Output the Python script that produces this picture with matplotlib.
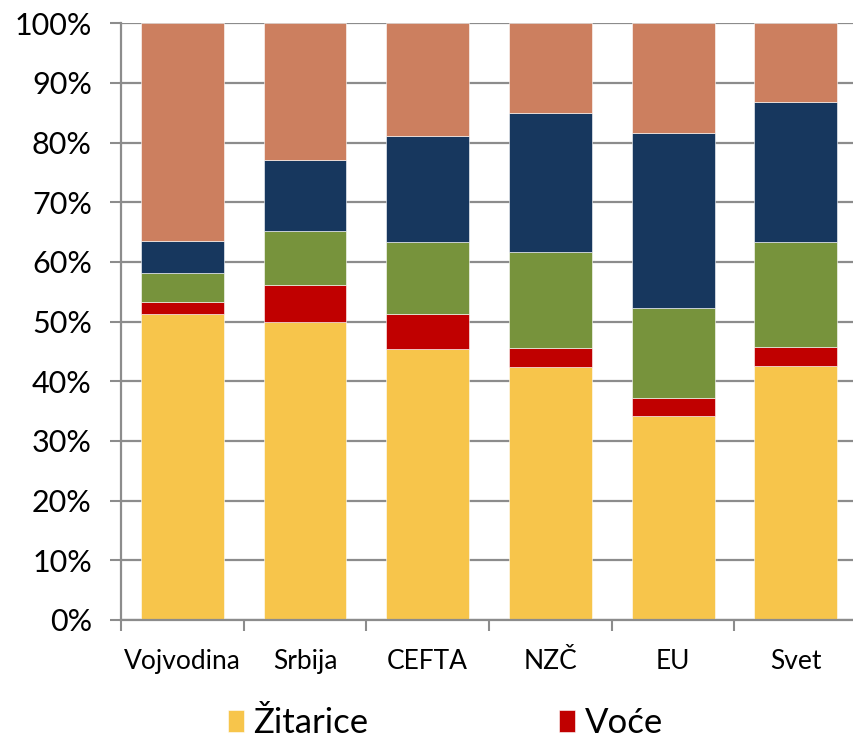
import numpy as np
import matplotlib.pyplot as plt

regions = ['Vojvodina', 'Srbija', 'CEFTA', 'NZČ', 'EU', 'Svet']
zitarice = [51.3, 49.9, 45.4, 42.4, 34.2, 42.5]
voce = [2.0, 6.2, 5.9, 3.2, 3.0, 3.2]
povrce = [4.8, 9.1, 12.0, 16.0, 15.1, 17.6]
meso = [5.4, 11.9, 17.8, 23.3, 29.3, 23.5]
ostalo = [36.5, 22.9, 18.9, 15.1, 18.4, 13.2]

series = [('Žitarice', zitarice, '#F7C54B'),
          ('Voće', voce, '#C00000'),
          ('Povrće', povrce, '#77933C'),
          ('Meso', meso, '#17375E'),
          ('Ostalo', ostalo, '#CC7F5F')]

plt.rcParams['font.family'] = ['Lato', 'DejaVu Sans']

fig = plt.figure(figsize=(8.54, 7.44), dpi=100)
# last category runs past the right edge, like in the original
ax = fig.add_axes([0.1417, 0.1667, 0.862, 0.802])

x = np.arange(len(regions))
bottom = np.zeros(len(regions))
bars = []
for name, vals, col in series:
    b = ax.bar(x, vals, 0.675, bottom=bottom, color=col, label=name, zorder=2,
               edgecolor='white', linewidth=0.4)
    bars.append(b)
    bottom += np.array(vals)

ax.set_xlim(-0.5, len(regions) - 0.5)
ax.set_ylim(0, 100)
ax.set_yticks(np.arange(0, 101, 10))
ax.set_yticklabels([f'{v}%' for v in range(0, 101, 10)], fontsize=22)
ax.yaxis.grid(True, color='#8C8C8C', linewidth=1.6, zorder=0)
ax.set_axisbelow(True)

ax.set_xticks(x)
ax.set_xticklabels(regions, fontsize=19)
ax.set_xticks(np.arange(-0.5, len(regions), 1), minor=True)
ax.tick_params(axis='x', which='major', length=0, pad=21)
ax.tick_params(axis='x', which='minor', length=8, color='#8C8C8C', width=1.5)
ax.tick_params(axis='y', length=8, color='#8C8C8C', width=1.5, pad=13)

for s in ['top', 'right']:
    ax.spines[s].set_visible(False)
for s in ['left', 'bottom']:
    ax.spines[s].set_color('#8C8C8C')
    ax.spines[s].set_linewidth(1.6)

# row-wise order for a 2-column legend
order = [0, 2, 4, 1, 3]
fig.legend([bars[i] for i in order], [series[i][0] for i in order],
           loc='upper left', bbox_to_anchor=(0.247, 0.073), ncol=2,
           frameon=False, fontsize=25, handlelength=0.46, handleheight=0.6,
           handletextpad=0.26, columnspacing=5.5, borderpad=0)

fig.savefig('out.png', dpi=100)
